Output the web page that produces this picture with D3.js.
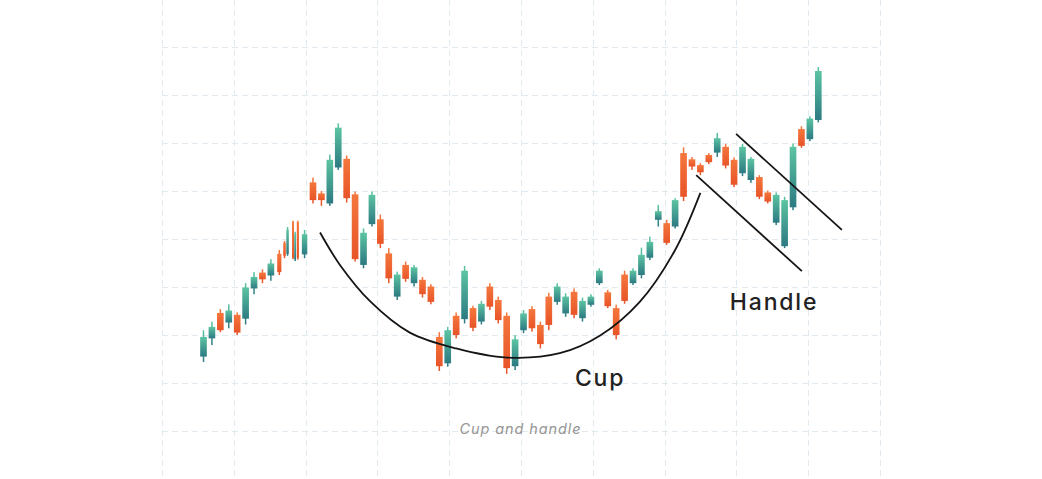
<!DOCTYPE html>
<html>
<head>
<meta charset="utf-8">
<script src="https://cdn.jsdelivr.net/npm/d3@7"></script>
<style>
  html, body { margin: 0; padding: 0; background: #ffffff; }
  svg { display: block; }
</style>
</head>
<body>
<svg id="chart"></svg>
<script>
// candle time index (a few squeezed candles sit between whole days)
const candleTime = [
    0, 1, 2, 3, 4, 5, 6, 7, 8, 9,
    9.62, 9.98, 10.63, 10.89, 11.2,
    12, 13, 14, 15, 16, 17, 18, 19, 20, 21, 22, 23, 24, 25, 26, 27, 28, 29,
    30, 31, 32, 33, 34, 35, 36, 37, 38, 39, 40, 41, 42, 43, 44, 45, 46, 47,
    48, 49, 50, 51, 52, 53, 54, 55, 56, 57, 58, 59, 60, 61, 62, 63, 64, 65,
    66, 67, 68, 69, 70, 71, 72, 73
];
const openVals = [
    15.5, 19.3, 24.6, 22.6, 24.2, 23.4, 29.7, 33.0, 32.4, 36.9,
    39.2, 36.9, 43.5, 35.8, 43.5,
    36.8, 51.8, 49.5, 47.4, 54.9, 56.7, 49.3, 34.6, 43.1, 44.1, 37.0, 28.0, 34.6, 30.8, 31.5, 30.1, 19.6, 14.1,
    24.0, 23.3, 25.6, 22.8, 30.1, 27.3, 24.0, 13.5, 21.0, 25.4, 22.1, 28.0, 26.9, 24.5, 29.0, 23.5, 26.3, 30.8,
    28.9, 25.6, 32.6, 30.8, 32.5, 36.1, 44.0, 43.3, 42.6, 57.9, 56.6, 55.4, 57.5, 58.0, 59.2, 56.5, 53.7, 52.3,
    52.9, 49.7, 43.4, 38.5, 46.6, 62.9, 60.8, 64.8
];
const closeVals = [
    19.6, 21.7, 21.0, 25.1, 20.5, 29.9, 32.1, 31.6, 34.9, 33.1,
    36.5, 41.9, 36.1, 41.0, 36.1,
    41.0, 48.1, 48.1, 56.5, 63.2, 48.5, 35.8, 41.3, 49.2, 39.0, 31.8, 32.6, 31.7, 34.1, 28.5, 26.9, 13.5, 21.0,
    20.0, 33.4, 21.5, 26.5, 25.9, 23.1, 13.1, 19.1, 24.5, 21.4, 18.1, 22.1, 30.1, 28.0, 24.2, 27.1, 28.0, 33.4,
    26.0, 20.0, 27.1, 33.4, 36.7, 39.4, 45.8, 39.2, 48.1, 48.8, 55.1, 53.9, 56.0, 61.0, 55.3, 51.3, 59.2, 56.7,
    48.8, 47.8, 49.2, 48.1, 59.2, 59.4, 65.1, 75.0
];
const highVals = [
    21.0, 22.8, 25.4, 26.4, 24.7, 30.8, 33.1, 33.7, 35.8, 37.7,
    39.6, 42.5, 43.8, 41.5, 43.8,
    41.9, 52.8, 50.0, 57.6, 64.1, 57.4, 49.9, 42.2, 49.9, 45.1, 38.1, 33.2, 35.3, 34.6, 32.1, 30.6, 20.6, 21.7,
    24.7, 34.4, 26.1, 27.1, 30.8, 28.0, 24.7, 20.0, 25.2, 26.0, 22.8, 28.8, 30.8, 28.7, 29.7, 27.8, 28.5, 33.9,
    29.4, 26.3, 33.4, 33.9, 38.2, 40.5, 47.1, 44.0, 48.5, 59.1, 57.1, 55.8, 57.9, 62.1, 59.8, 57.0, 59.8, 57.1,
    53.3, 50.1, 49.7, 48.8, 59.9, 63.5, 65.6, 75.8
];
const lowVals = [
    14.4, 17.9, 20.6, 21.4, 20.0, 22.2, 28.5, 30.8, 31.3, 32.5,
    36.0, 36.5, 35.8, 35.4, 35.7,
    36.0, 47.4, 46.9, 46.9, 54.4, 47.6, 35.3, 33.9, 42.6, 38.1, 30.8, 27.3, 31.1, 30.1, 27.8, 26.4, 12.5, 13.4,
    19.3, 22.4, 20.8, 22.2, 25.2, 22.4, 11.9, 12.7, 20.4, 20.7, 17.2, 21.0, 26.3, 23.8, 23.5, 22.8, 25.9, 30.4,
    25.6, 19.1, 26.5, 30.4, 31.8, 35.6, 42.6, 38.8, 42.2, 47.9, 54.4, 53.3, 55.6, 57.1, 54.7, 50.8, 53.1, 51.7,
    48.3, 47.4, 42.9, 38.1, 46.0, 59.0, 60.4, 64.3
];

// annotation paths, in [time, price]
const cupPoints = [
    [13.84, 41.35], [16.2, 34.6], [19.8, 27.0], [24.5, 20.5], [30, 17.2], [36, 15.3],
    [42.3, 16.2], [47.1, 19.9], [51.8, 26.9], [56, 37.7], [59, 49.6]
];
const handleLower = [[58.5, 53.3], [71.05, 33.3]];
const handleUpper = [[63.24, 61.9], [75.8, 41.9]];
const labels = [
    { text: "Cup", t: 44.1, p: 9.4 },
    { text: "Handle", t: 62.5, p: 25.2 }
];
const caption = "Cup and handle";

const gridPrices = d3.range(-10, 100, 10);
const gridCols = d3.range(0, 11);

const width = 1042, height = 479;

const svg = d3.select("#chart")
    .attr("width", width)
    .attr("height", height);

const x = d3.scaleLinear().domain([0, 73]).range([203.5, 818.3]);
const y = d3.scaleLinear().domain([0, 100]).range([431, -49]);
const gx = d3.scaleLinear().domain([0, 10]).range([162, 880]);

// gradients
const defs = svg.append("defs");
function addGradient(id, top, bottom) {
    const g = defs.append("linearGradient")
        .attr("id", id)
        .attr("x1", 0).attr("y1", 0)
        .attr("x2", 0).attr("y2", 1);
    g.append("stop").attr("offset", "0%").attr("stop-color", top);
    g.append("stop").attr("offset", "100%").attr("stop-color", bottom);
}
addGradient("upGrad", "#5cc4a2", "#2c7a82");
addGradient("downGrad", "#f4773d", "#e85428");

// grid
const grid = svg.append("g").attr("class", "grid")
    .attr("stroke", "#e1eaee")
    .attr("stroke-width", 1)
    .attr("stroke-dasharray", "6,4");

grid.selectAll(".hline")
    .data(gridPrices)
    .enter()
    .append("line")
    .attr("class", "hline")
    .attr("x1", gx(0)).attr("x2", gx(10))
    .attr("y1", d => Math.round(y(d)) + 0.5)
    .attr("y2", d => Math.round(y(d)) + 0.5);

grid.selectAll(".vline")
    .data(gridCols)
    .enter()
    .append("line")
    .attr("class", "vline")
    .attr("x1", d => Math.round(gx(d)) + 0.5)
    .attr("x2", d => Math.round(gx(d)) + 0.5)
    .attr("y1", 0).attr("y2", height);

// candles
const candles = candleTime.map((t, i) => ({
    t: t,
    open: openVals[i],
    close: closeVals[i],
    high: highVals[i],
    low: lowVals[i]
}));

const step = x(1) - x(0);
const bodyW = step * 0.79;
candles.forEach((d, i) => {
    const prev = i > 0 ? candles[i - 1].t : d.t - 1;
    const next = i < candles.length - 1 ? candles[i + 1].t : d.t + 1;
    const gap = Math.min(d.t - prev, next - d.t) * step;
    d.w = Math.min(bodyW, gap * 0.8);
});

const candle = svg.append("g").attr("class", "candles")
    .selectAll(".candle")
    .data(candles)
    .enter()
    .append("g")
    .attr("class", "candle")
    .attr("fill", d => d.close >= d.open ? "url(#upGrad)" : "url(#downGrad)");

candle.append("rect")
    .attr("class", "wick")
    .attr("x", d => x(d.t) - 0.75)
    .attr("width", 1.5)
    .attr("y", d => y(d.high))
    .attr("height", d => y(d.low) - y(d.high));

candle.append("rect")
    .attr("class", "body")
    .attr("x", d => x(d.t) - d.w / 2)
    .attr("width", d => d.w)
    .attr("y", d => y(Math.max(d.open, d.close)))
    .attr("height", d => Math.max(1, Math.abs(y(d.open) - y(d.close))));

// cup and handle annotation
const line = d3.line()
    .x(d => x(d[0]))
    .y(d => y(d[1]));

svg.append("path")
    .attr("d", line.curve(d3.curveCatmullRom.alpha(0.5))(cupPoints))
    .attr("fill", "none")
    .attr("stroke", "#151515")
    .attr("stroke-width", 1.8);

[handleLower, handleUpper].forEach(seg => {
    svg.append("path")
        .attr("d", d3.line().x(d => x(d[0])).y(d => y(d[1]))(seg))
        .attr("fill", "none")
        .attr("stroke", "#151515")
        .attr("stroke-width", 1.8);
});

svg.selectAll(".label")
    .data(labels)
    .enter()
    .append("text")
    .attr("class", "label")
    .attr("x", d => x(d.t))
    .attr("y", d => y(d.p))
    .attr("font-family", "Inter, 'Open Sans', sans-serif")
    .attr("font-weight", 500)
    .attr("font-size", 23)
    .attr("letter-spacing", 1.8)
    .attr("fill", "#222222")
    .text(d => d.text);

svg.append("text")
    .attr("x", 520.5)
    .attr("y", 434)
    .attr("text-anchor", "middle")
    .attr("font-family", "Inter, 'Open Sans', sans-serif")
    .attr("font-style", "italic")
    .attr("font-size", 14.5)
    .attr("letter-spacing", 0.9)
    .attr("fill", "#959595")
    .text(caption);
</script>
</body>
</html>
